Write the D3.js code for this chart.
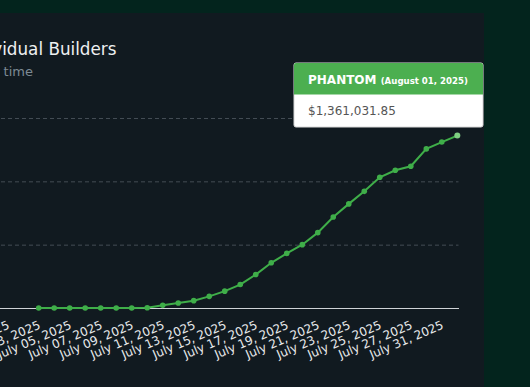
<!DOCTYPE html>
<html>
<head>
<meta charset="utf-8">
<script src="https://cdn.jsdelivr.net/npm/d3@7"></script>
<style>
  body { margin: 0; background: #03241d; }
  svg { display: block; font-family: "DejaVu Sans", Verdana, sans-serif; }
</style>
</head>
<body>
<svg id="chart" width="530" height="387"></svg>
<script>
var chartWidth = 530;
var chartHeight = 387;

/********
 * Data *
 ********/

// categories (dates on the x axis), left part is cut off in the view
var dates = ["June 25, 2025", "June 26, 2025", "June 27, 2025", "June 28, 2025",
  "June 29, 2025", "June 30, 2025", "July 01, 2025", "July 02, 2025",
  "July 03, 2025", "July 04, 2025", "July 05, 2025", "July 06, 2025",
  "July 07, 2025", "July 08, 2025", "July 09, 2025", "July 10, 2025",
  "July 11, 2025", "July 12, 2025", "July 13, 2025", "July 14, 2025",
  "July 15, 2025", "July 16, 2025", "July 17, 2025", "July 18, 2025",
  "July 19, 2025", "July 20, 2025", "July 21, 2025", "July 22, 2025",
  "July 23, 2025", "July 24, 2025", "July 25, 2025", "July 26, 2025",
  "July 27, 2025", "July 29, 2025", "July 31, 2025", "August 01, 2025"];

// cumulative revenue for PHANTOM (null = no data yet)
var phantom = [null, null, null, null, null, null, null, null,
  0, 0, 0, 0, 0, 0, 0, 2500,
  21000, 40000, 58000, 92000, 133000, 185000, 264000, 357000,
  431000, 500000, 595000, 719000, 822000, 921000, 1032000, 1087000,
  1119000, 1256000, 1310000, 1361031.85];

var yTicks = [0, 500000, 1000000, 1500000];

var seriesName = "PHANTOM";
var titleText = "Cumulative Revenue by Individual Builders";
var subtitleText = "Cumulative revenue over time";

/**********
 * Scales *
 **********/

var x = d3.scalePoint()
    .domain(dates)
    .range([38.7 - 8 * 15.504, 457.3]);

var y = d3.scaleLinear()
    .domain([0, 1500000])
    .range([308, 118]);

var svg = d3.select("#chart");

// panel
svg.append("rect")
    .attr("x", -20)
    .attr("y", 13)
    .attr("width", 504)
    .attr("height", 400)
    .attr("fill", "#111a20");

// title + subtitle (start is off screen)
svg.append("text")
    .attr("x", 116.5)
    .attr("y", 55)
    .attr("text-anchor", "end")
    .attr("fill", "#eef0f1")
    .attr("font-size", "16.8px")
    .text(titleText);

svg.append("text")
    .attr("x", 33)
    .attr("y", 76)
    .attr("text-anchor", "end")
    .attr("fill", "#7d8a94")
    .attr("font-size", "13px")
    .text(subtitleText);

/********
 * Axes *
 ********/

// dashed grid lines
var grid = d3.axisLeft(y)
    .tickValues(yTicks.slice(1))
    .tickSize(-(458.5 + 20))
    .tickFormat("");

var gridGroup = svg.append("g")
    .attr("transform", "translate(-20,0)")
    .call(grid);
gridGroup.select(".domain").remove();
gridGroup.selectAll("line")
    .attr("stroke", "#434c54")
    .attr("stroke-dasharray", "4,3");

// baseline
svg.append("line")
    .attr("x1", -20)
    .attr("x2", 459)
    .attr("y1", y(0) + 0.5)
    .attr("y2", y(0) + 0.5)
    .attr("stroke", "#cfd3d6")
    .attr("stroke-width", 1);

// x axis labels, every other date
var xAxis = d3.axisBottom(x)
    .tickValues(dates.filter(function(d, i) { return i % 2 == 0; }))
    .tickSize(0);

var xAxisGroup = svg.append("g")
    .attr("transform", "translate(0," + y(0) + ")")
    .call(xAxis);
xAxisGroup.select(".domain").remove();
xAxisGroup.selectAll("text")
    .attr("fill", "#e6e8ea")
    .attr("font-size", "12px")
    .attr("font-family", "DejaVu Sans, sans-serif")
    .attr("y", 0)
    .attr("dy", 0)
    .style("text-anchor", "end")
    .attr("transform", "translate(2,20) rotate(-23)");

/********
 * Line *
 ********/

var points = dates.map(function(d, i) { return { date: d, value: phantom[i] }; })
    .filter(function(d) { return d.value !== null; });

var line = d3.line()
    .x(function(d) { return x(d.date); })
    .y(function(d) { return y(d.value); });

svg.append("path")
    .datum(points)
    .attr("fill", "none")
    .attr("stroke", "#3fae49")
    .attr("stroke-width", 2)
    .attr("d", line);

svg.selectAll("circle")
    .data(points)
    .enter().append("circle")
    .attr("cx", function(d) { return x(d.date); })
    .attr("cy", function(d) { return y(d.value); })
    .attr("r", function(d, i) { return i == points.length - 1 ? 3 : 2.8; })
    .attr("fill", function(d, i) { return i == points.length - 1 ? "#7fcf82" : "#3fae49"; });

/***********
 * Tooltip *
 ***********/

var last = points[points.length - 1];
var tip = svg.append("g").attr("transform", "translate(294,63)");

tip.append("rect")
    .attr("width", 189)
    .attr("height", 64)
    .attr("rx", 2)
    .attr("fill", "#ffffff")
    .attr("stroke", "#d8d8d8");

tip.append("path")
    .attr("d", "M0,31.5V2a2,2 0 0 1 2,-2H187a2,2 0 0 1 2,2V31.5Z")
    .attr("fill", "#4caf50");

var head = tip.append("text")
    .attr("x", 14)
    .attr("y", 21)
    .attr("fill", "#ffffff")
    .attr("font-weight", "bold");
head.append("tspan")
    .attr("font-size", "12px")
    .text(seriesName + " ");
head.append("tspan")
    .attr("font-size", "8.6px")
    .text("(" + last.date + ")");

tip.append("text")
    .attr("x", 14)
    .attr("y", 52)
    .attr("fill", "#555")
    .attr("font-size", "12px")
    .text(d3.format("$,.2f")(last.value));
</script>
</body>
</html>
